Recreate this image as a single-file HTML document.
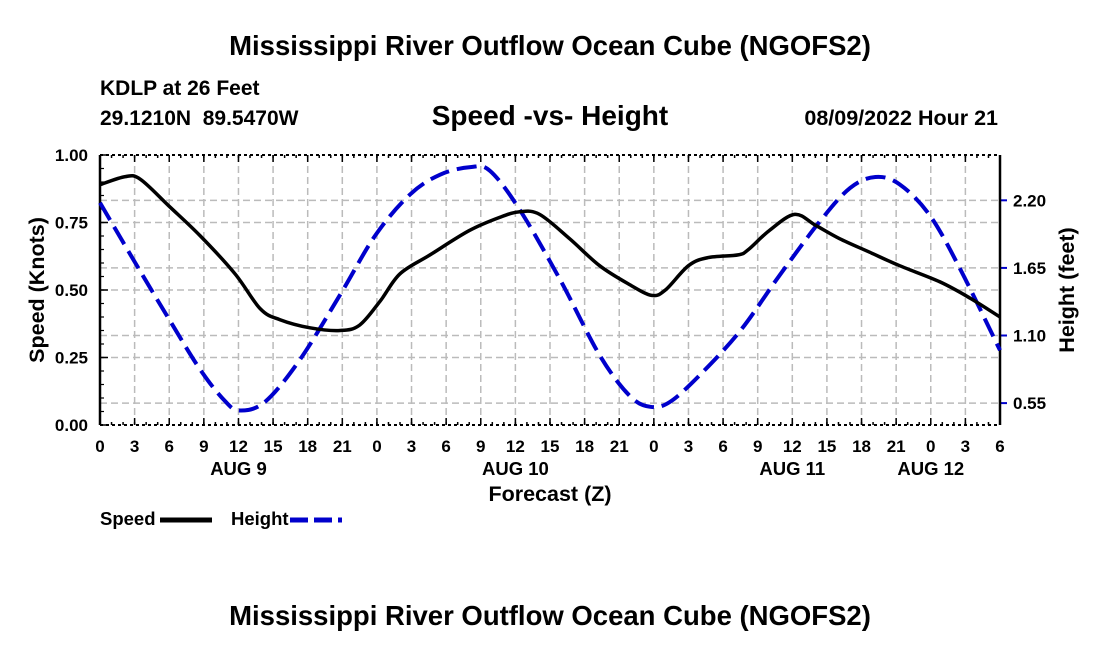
<!DOCTYPE html>
<html><head><meta charset="utf-8"><style>
body{margin:0;background:#fff;}
svg text{font-family:"Liberation Sans",Arial,sans-serif;font-weight:bold;fill:#000;}
</style></head><body>
<svg id="c" width="1100" height="650" xmlns="http://www.w3.org/2000/svg">
<text x="550" y="55" font-size="27.5" text-anchor="middle">Mississippi River Outflow Ocean Cube (NGOFS2)</text>
<text x="100" y="95" font-size="21">KDLP at 26 Feet</text>
<text x="100" y="125" font-size="21" xml:space="preserve">29.1210N  89.5470W</text>
<text x="550" y="125" font-size="28" text-anchor="middle">Speed -vs- Height</text>
<text x="998" y="125" font-size="21.5" text-anchor="end">08/09/2022 Hour 21</text>
<g id="grid"></g>
<g id="axes"></g>
<g id="series"></g>
<text x="550" y="501" font-size="21.5" text-anchor="middle">Forecast (Z)</text>
<text transform="translate(44,290) rotate(-90)" font-size="21.5" text-anchor="middle">Speed (Knots)</text>
<text transform="translate(1074,290) rotate(-90)" font-size="21.5" text-anchor="middle">Height (feet)</text>
<g><text x="100" y="525" font-size="18.5">Speed</text><line x1="160" y1="520" x2="212" y2="520" stroke="#000" stroke-width="5"/></g>
<g><text x="231" y="525" font-size="18.5">Height</text><line x1="290" y1="520" x2="342" y2="520" stroke="#00c" stroke-width="5" stroke-dasharray="18,6"/></g>
<text x="550" y="625" font-size="27.5" text-anchor="middle">Mississippi River Outflow Ocean Cube (NGOFS2)</text>
</svg>
<script>
const speedHours=[0,2.2,3.5,6,8.7,11.7,13.9,15.6,18.2,20.8,22.5,24.3,26,28.6,32,34.7,36.4,38.1,40.7,43.3,45.9,47.8,49,51,52.7,55.3,56.2,58,60.2,62,64.1,66.7,69.3,72.8,75.4,78];
const speedVals=[0.89,0.92,0.91,0.81,0.70,0.56,0.43,0.39,0.36,0.35,0.37,0.46,0.56,0.63,0.72,0.77,0.79,0.78,0.69,0.59,0.52,0.48,0.50,0.59,0.62,0.63,0.65,0.72,0.78,0.74,0.69,0.64,0.59,0.53,0.47,0.40];
const heightHours=[0,3,6,8.7,10.8,12.1,14.3,17.3,20.8,23.9,26.9,29.5,32.1,33.8,36.4,39.9,43.3,45.9,47.7,49.4,52,55.5,58.9,62.4,65,67.2,69.3,71.9,74.5,78];
const heightVals=[2.18,1.70,1.23,0.82,0.57,0.49,0.56,0.90,1.43,1.92,2.25,2.41,2.47,2.44,2.12,1.55,0.94,0.61,0.52,0.56,0.78,1.14,1.59,2.03,2.30,2.39,2.33,2.08,1.65,0.98];
const xTickLabels=["0","3","6","9","12","15","18","21","0","3","6","9","12","15","18","21","0","3","6","9","12","15","18","21","0","3","6"];
const dayLabels=["AUG 9","AUG 10","AUG 11","AUG 12"];
const dayLabelHours=[12,36,60,72];
const speedTicks=[0,0.25,0.5,0.75,1.0];
const heightTicks=[0.55,1.10,1.65,2.20];
const X0=100,X1=1000,Y0=425,Y1=155,HMAX=78;
const x=h=>X0+(X1-X0)*h/HMAX;
const ys=v=>Y0-(Y0-Y1)*v;
const yh=f=>470.7-f*122.9;
const NS="http://www.w3.org/2000/svg";
function mk(p,t,a){const e=document.createElementNS(NS,t);for(const k in a)e.setAttribute(k,a[k]);p.appendChild(e);return e;}
const grid=document.getElementById('grid'),axes=document.getElementById('axes'),ser=document.getElementById('series');
xTickLabels.forEach((l,i)=>{const X=x(i*3);
 if(i>0&&i<xTickLabels.length-1){const g=mk(grid,'line',{x1:X,x2:X,y1:Y1,y2:Y0,stroke:'#bbb','stroke-width':1.5,'stroke-dasharray':'7,4'});
 
 }
 mk(axes,'line',{x1:X,x2:X,y1:Y0,y2:Y0-7,stroke:'#000','stroke-width':1.5});
 mk(axes,'line',{x1:X,x2:X,y1:Y1,y2:Y1+7,stroke:'#000','stroke-width':1.5});
 const t=mk(axes,'text',{x:X,y:452,'font-size':17,'text-anchor':'middle'});t.textContent=l;
 
 });
dayLabels.forEach((l,i)=>{const t=mk(axes,'text',{x:x(dayLabelHours[i]),y:475,'font-size':18.5,'text-anchor':'middle'});t.textContent=l;
 
 });
for(let h=1;h<HMAX;h++){mk(axes,'line',{x1:x(h),x2:x(h),y1:Y0,y2:Y0-3,stroke:'#000','stroke-width':1.5});mk(axes,'line',{x1:x(h),x2:x(h),y1:Y1,y2:Y1+3,stroke:'#000','stroke-width':1.5});}
speedTicks.forEach(v=>{const Y=ys(v);
 if(v>0&&v<1){const g=mk(grid,'line',{x1:X0,x2:X1,y1:Y,y2:Y,stroke:'#bbb','stroke-width':1.5,'stroke-dasharray':'7,4'});
 
 }
 mk(axes,'line',{x1:X0,x2:X0+8,y1:Y,y2:Y,stroke:'#000','stroke-width':1.5});
 const t=mk(axes,'text',{x:88,y:Y+6,'font-size':17,'text-anchor':'end'});t.textContent=v.toFixed(2);
 
 });
for(let v=0.05;v<1;v+=0.05){mk(axes,'line',{x1:X0,x2:X0+4,y1:ys(v),y2:ys(v),stroke:'#000','stroke-width':1.2});}
heightTicks.forEach(f=>{const Y=yh(f);
 const g=mk(grid,'line',{x1:X0,x2:X1,y1:Y,y2:Y,stroke:'#bbb','stroke-width':1.5,'stroke-dasharray':'7,4'});
 
 
 mk(axes,'line',{x1:X1,x2:X1+7,y1:Y,y2:Y,stroke:'#00c','stroke-width':2});
 const t=mk(axes,'text',{x:1013,y:Y+6,'font-size':17});t.textContent=f.toFixed(2);
 
 });
mk(axes,'line',{x1:X0,x2:X0,y1:Y1,y2:Y0,stroke:'#000','stroke-width':2.5});
mk(axes,'line',{x1:X1,x2:X1,y1:Y1,y2:Y0,stroke:'#000','stroke-width':2.5});
mk(axes,'line',{x1:X0,x2:X1,y1:Y0,y2:Y0,stroke:'#000','stroke-width':2,'stroke-dasharray':'3,3'});
mk(axes,'line',{x1:X0,x2:X1,y1:Y1,y2:Y1,stroke:'#000','stroke-width':2,'stroke-dasharray':'3,3'});
function path(pts){let d='M'+pts[0][0]+','+pts[0][1];
 for(let i=0;i<pts.length-1;i++){const p0=pts[Math.max(0,i-1)],p1=pts[i],p2=pts[i+1],p3=pts[Math.min(pts.length-1,i+2)];
 d+=' C'+(p1[0]+(p2[0]-p0[0])/6)+','+(p1[1]+(p2[1]-p0[1])/6)+' '+(p2[0]-(p3[0]-p1[0])/6)+','+(p2[1]-(p3[1]-p1[1])/6)+' '+p2[0]+','+p2[1];}
 return d;}
const hp=mk(ser,'path',{d:path(heightHours.map((h,i)=>[x(h),yh(heightVals[i])])),fill:'none',stroke:'#00c','stroke-width':4,'stroke-dasharray':'20,8'});


const sp=mk(ser,'path',{d:path(speedHours.map((h,i)=>[x(h),ys(speedVals[i])])),fill:'none',stroke:'#000','stroke-width':3.5});


</script>
</body></html>
